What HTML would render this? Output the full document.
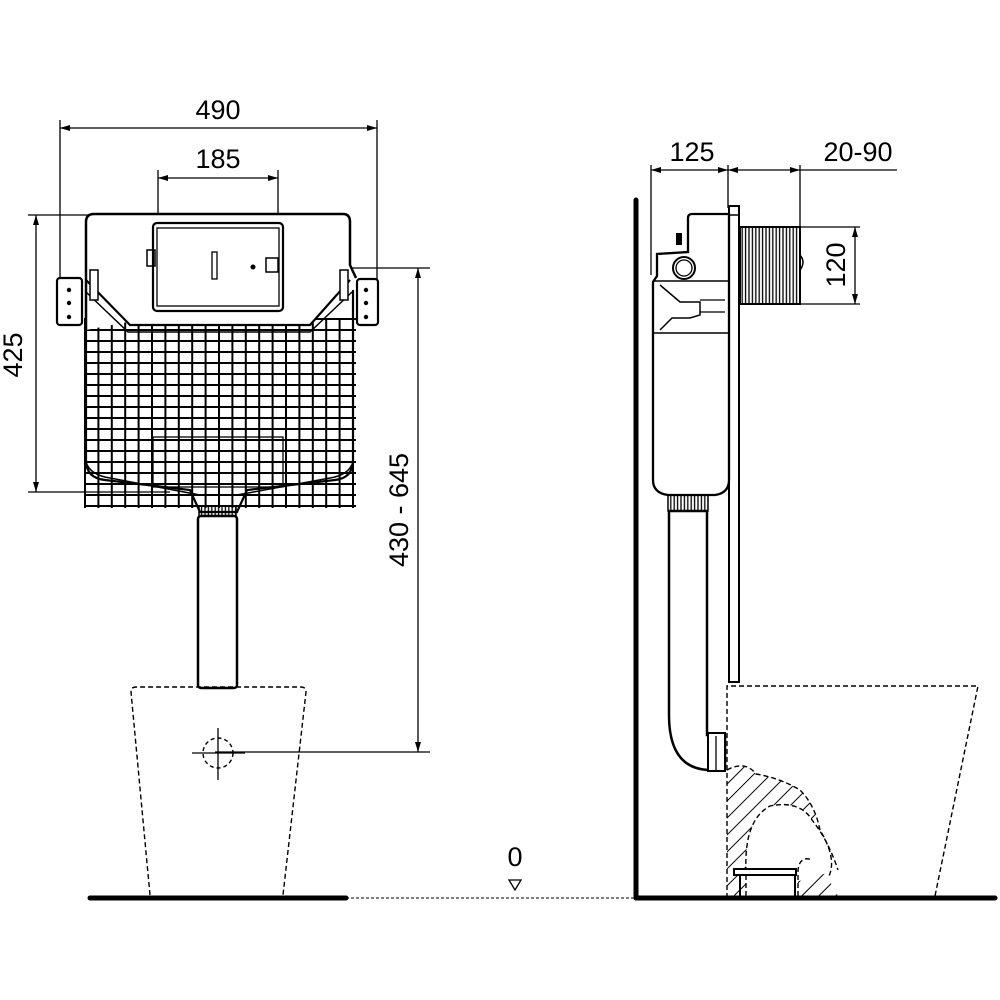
<!DOCTYPE html>
<html><head><meta charset="utf-8"><style>html,body{margin:0;padding:0;background:#fff}svg{display:block}</style></head>
<body>
<svg width="1000" height="1000" viewBox="0 0 1000 1000" xmlns="http://www.w3.org/2000/svg" font-family="Liberation Sans, sans-serif">
<defs>
<pattern id="grid" x="84" y="318" width="13.4" height="11" patternUnits="userSpaceOnUse">
<path d="M1 0V11M0 1H13.4" stroke="#000" stroke-width="2" fill="none"/>
</pattern>
<pattern id="hatch" width="12" height="12" patternUnits="userSpaceOnUse" patternTransform="rotate(45)">
<path d="M0 0V12" stroke="#000" stroke-width="2"/>
</pattern>
<pattern id="vl" width="3.4" height="10" patternUnits="userSpaceOnUse">
<path d="M1 0V10" stroke="#000" stroke-width="1.3"/>
</pattern>
<marker id="ar" viewBox="0 0 10 10" refX="10" refY="5" markerWidth="10" markerHeight="10" orient="auto-start-reverse" markerUnits="userSpaceOnUse">
<path d="M0 2L10 5L0 8Z" fill="#000"/>
</marker>
</defs>
<g stroke="#000" fill="none">
<g stroke-width="1.3">
<line x1="60" y1="120" x2="60" y2="300"/>
<line x1="377" y1="120" x2="377" y2="282"/>
<line x1="60" y1="128" x2="377" y2="128" marker-start="url(#ar)" marker-end="url(#ar)"/>
<line x1="158" y1="170" x2="158" y2="225"/>
<line x1="278" y1="170" x2="278" y2="225"/>
<line x1="158" y1="178" x2="278" y2="178" marker-start="url(#ar)" marker-end="url(#ar)"/>
<line x1="28" y1="215" x2="88" y2="215"/>
<line x1="28" y1="492" x2="170" y2="492"/>
<line x1="36" y1="215" x2="36" y2="492" marker-start="url(#ar)" marker-end="url(#ar)"/>
<line x1="283" y1="268" x2="430" y2="268"/>
<line x1="215" y1="752" x2="430" y2="752"/>
<line x1="418" y1="268" x2="418" y2="752" marker-start="url(#ar)" marker-end="url(#ar)"/>
</g>
<rect x="84" y="318" width="272" height="190" fill="url(#grid)" stroke="none"/>
<path d="M86 330V222Q86 214 94 214H343Q350 214 350 222V265L356 278" stroke-width="2.5" fill="#fff"/>
<path d="M86 330V460Q86 478 105 480L190 490L200 512H237L247 490L335 480Q353 478 353 460V290" stroke-width="2.2"/>
<path d="M86 462Q90 475 110 478L200 495M353 462Q349 475 330 478L237 495" stroke-width="1.5"/>
<rect x="153" y="437" width="130" height="50" stroke-width="1.3"/>
<path d="M86 280L130 325H310L350 280" stroke-width="2.2" fill="#fff"/>
<path d="M86 292L128 332H310L352 292" stroke-width="1.5"/>
<rect x="153" y="223" width="130" height="88" rx="4" stroke-width="2.2" fill="#fff"/>
<rect x="157" y="228" width="122" height="78" stroke-width="1.3"/>
<rect x="212" y="252" width="5" height="27" stroke-width="1.3"/>
<circle cx="253" cy="267" r="2" fill="#000"/>
<rect x="147" y="250" width="8" height="16" stroke-width="1.5"/>
<rect x="266" y="258" width="12" height="14" stroke-width="1.5"/>
<rect x="57" y="278" width="25" height="47" rx="3" stroke-width="2.2" fill="#fff"/>
<rect x="357" y="279" width="21" height="46" rx="3" stroke-width="2.2" fill="#fff"/>
<g fill="#000" stroke="none"><circle cx="69" cy="290" r="2.2"/><circle cx="69" cy="303" r="2.2"/><circle cx="69" cy="317" r="2.2"/><circle cx="366" cy="290" r="2.2"/><circle cx="366" cy="303" r="2.2"/><circle cx="366" cy="317" r="2.2"/></g>
<rect x="90" y="270" width="8" height="30" stroke-width="1.5" fill="#fff"/>
<rect x="340" y="270" width="8" height="30" stroke-width="1.5" fill="#fff"/>
<rect x="199" y="506" width="37" height="10" fill="url(#vl)" stroke-width="1.5"/>
<rect x="198" y="516" width="39" height="172" rx="3" stroke-width="2.5" fill="#fff"/>
<path d="M150 895L131 692Q131 687 136 687H301Q306 687 306 692L283 895" stroke-width="1.4" stroke-dasharray="5,3"/>
<circle cx="218" cy="753" r="15" stroke-width="1.4" stroke-dasharray="4,3"/>
<line x1="218" y1="728" x2="218" y2="780" stroke-width="1.3"/>
<line x1="192" y1="753" x2="245" y2="753" stroke-width="1.3"/>
<line x1="90" y1="898" x2="346" y2="898" stroke-width="5" stroke-linecap="round"/>
<line x1="346" y1="898" x2="636" y2="898" stroke-width="1" stroke-dasharray="3,2"/>
<path d="M509 880H521L515 890Z" stroke-width="1.3"/>
<line x1="636" y1="200" x2="636" y2="898" stroke-width="5" stroke-linecap="round"/>
<line x1="636" y1="898" x2="995" y2="898" stroke-width="5" stroke-linecap="round"/>
<g stroke-width="1.3">
<line x1="651" y1="165" x2="651" y2="275"/>
<line x1="728" y1="165" x2="728" y2="208"/>
<line x1="800" y1="165" x2="800" y2="228"/>
<line x1="651" y1="170" x2="728" y2="170" marker-start="url(#ar)" marker-end="url(#ar)"/>
<line x1="728" y1="170" x2="800" y2="170" marker-start="url(#ar)" marker-end="url(#ar)"/>
<line x1="800" y1="170" x2="897" y2="170"/>
<line x1="800" y1="227" x2="860" y2="227"/>
<line x1="800" y1="304" x2="860" y2="304"/>
<line x1="855" y1="227" x2="855" y2="304" marker-start="url(#ar)" marker-end="url(#ar)"/>
</g>
<rect x="729" y="206" width="10" height="476" stroke-width="2" fill="#fff"/>
<line x1="729" y1="215" x2="739" y2="215" stroke-width="1.5"/>
<rect x="740" y="227" width="60" height="77" fill="url(#vl)" stroke-width="2"/>
<path d="M800 255Q806 262 800 270" stroke-width="1.5"/>
<path d="M653 480V282L657 276V254L688 252V218Q688 214 692 214H729V480Q729 493 715 495H668Q653 493 653 480Z" stroke-width="2.3" fill="#fff"/>
<rect x="676" y="233" width="6" height="12" fill="#000" stroke="none"/>
<circle cx="684" cy="268" r="11" stroke-width="2"/>
<circle cx="684" cy="268" r="8" stroke-width="1.3"/>
<line x1="653" y1="281" x2="729" y2="281" stroke-width="1.5"/>
<line x1="653" y1="333" x2="729" y2="333" stroke-width="1.5"/>
<path d="M660 285L680 302H700V315L690 318H672L660 330" stroke-width="1.5"/>
<path d="M700 300H725M700 312H725" stroke-width="1.3"/>
<rect x="668" y="495" width="40" height="16" fill="url(#vl)" stroke-width="1.5"/>
<path d="M669 511V715Q669 768 708 770H725V735H707V511Z" stroke-width="2.5" fill="#fff"/>
<rect x="708" y="733" width="17" height="38" stroke-width="2" fill="#fff"/>
<line x1="716" y1="736" x2="716" y2="770" stroke-width="1.3"/>
<path d="M727 898V686H978L935 896" stroke-width="1.4" stroke-dasharray="5,3"/>
<path d="M727 770Q745 760 756 774Q780 778 800 790Q815 805 820 830Q838 860 828 878L838 896H798V870Q795 855 780 860L770 870H746V896H727Z" fill="url(#hatch)" stroke="none"/>
<path d="M746 896V870Q744 820 770 806Q800 800 812 820Q828 840 838 870" stroke-width="1.4" stroke-dasharray="5,3" fill="#fff"/>
<path d="M727 770Q745 760 756 774Q780 778 800 790Q815 805 820 830Q838 860 828 878" stroke-width="1.4" stroke-dasharray="5,3"/>
<path d="M798 896V870Q800 855 812 860" stroke-width="1.4" stroke-dasharray="5,3"/>
<rect x="734" y="869" width="62" height="6" stroke-width="2" fill="#fff"/>
<path d="M740 875V896M795 875V896" stroke-width="2"/>
</g>
<g font-size="27" fill="#000">
<text x="218" y="119" text-anchor="middle">490</text>
<text x="218" y="168" text-anchor="middle">185</text>
<text transform="translate(22 355) rotate(-90)" text-anchor="middle">425</text>
<text transform="translate(408 510) rotate(-90)" text-anchor="middle">430 - 645</text>
<text x="515" y="866" text-anchor="middle">0</text>
<text x="692" y="161" text-anchor="middle">125</text>
<text x="858" y="161" text-anchor="middle">20-90</text>
<text transform="translate(845 265) rotate(-90)" text-anchor="middle">120</text>
</g>
</svg>
</body></html>
